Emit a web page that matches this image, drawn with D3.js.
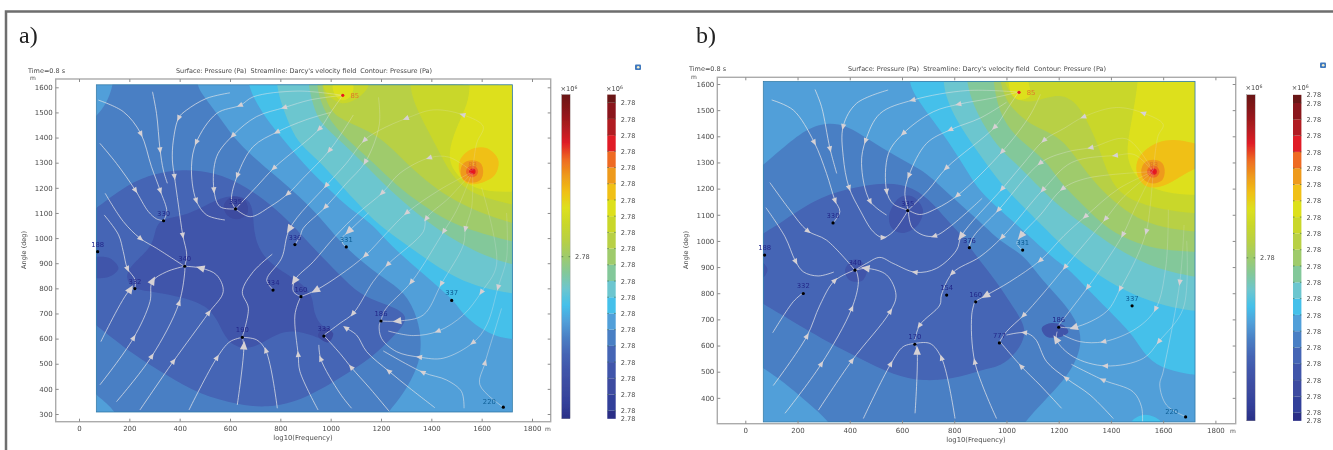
<!DOCTYPE html>
<html>
<head>
<meta charset="utf-8">
<script src="https://cdn.jsdelivr.net/npm/d3@7"></script>
<style>
html, body { margin: 0; padding: 0; background: #fff; overflow: hidden; }
text { font-family: "DejaVu Sans", sans-serif; fill: #4a4a4a; }
</style>
</head>
<body>
<svg id="chart" width="1333" height="450"></svg>
<script>
// shared well positions (frequency, angle)
const wells = [[74,946],[222,799],[336,1069],[622,1116],[420,888],[858,974],[771,793],[882,767],[649,605],[973,610],[1062,965],[1200,670],[1481,752],[1686,327],[1048,1568],[1564,1264]];
const wellLabelsA = ['188','332','330','335','340','336','334','160','190','333','331','186','337','220','85','83'];
const wellLabelsB = ['188','332','330','335','340','376','154','160','170','777','331','186','337','220','85','83'];
const xTicks = [0,200,400,600,800,1000,1200,1400,1600,1800];
const yTicksA = [300,400,500,600,700,800,900,1000,1100,1200,1300,1400,1500,1600];
const yTicksB = [400,500,600,700,800,900,1000,1100,1200,1300,1400,1500,1600];
const barTickLevelsA = [-0.5,0,1,2,3,4,5,6,7,8,9,10,11,12,13,14,15,16,17,18,19];
const barTickLevelsB = [-0.5,0,1,2,3,4,5,6,7,8,9,10,11,12,13,14,15,16,17,18,19,19.5];
const barTickText = '2.78';
const title = "Surface: Pressure (Pa)  Streamline: Darcy's velocity field  Contour: Pressure (Pa)";

// pressure levels, bottom of the colour bar first
const levelColors = ['#2a2f86','#33409a','#3c4ba0','#4155aa','#4565b5','#4a7fc4','#519fd9','#44c0ea','#6cc6cf','#83c89a','#9fcb6c','#b8d044','#c9d72a','#dde01e','#f0c015','#ee9a1c','#ee6a22','#e01f26','#b01c20','#8a161a','#6a1214'];

// contour outlines
const a_L3 = [[468,1660],[468,1609],[494,1565],[547,1497],[612,1402],[691,1323],[787,1243],[878,1164],[957,1084],[1037,985],[1116,913],[1208,842],[1295,786],[1347,683],[1363,575],[1347,484],[1287,376],[1228,308],[1200,260],[150,260],[150,310],[69,376],[30,410],[30,1460],[69,1483],[110,1537],[136,1609],[136,1660]];
const a_L2 = [[30,1090],[68,1119],[163,1192],[269,1251],[415,1278],[547,1258],[640,1218],[732,1158],[838,1066],[944,946],[1037,853],[1116,774],[1209,740],[1328,694],[1249,608],[1169,528],[1037,442],[878,349],[745,325],[639,336],[480,376],[348,455],[216,535],[69,654],[30,680]];
const a_L1 = [[190,867],[223,906],[296,973],[302,1039],[329,1079],[408,1085],[494,1125],[587,1172],[666,1165],[693,1119],[693,1026],[719,940],[785,880],[865,834],[931,780],[931,694],[971,641],[1017,628],[991,588],[957,601],[865,635],[785,621],[719,575],[653,555],[587,588],[554,668],[507,734],[401,767],[296,787],[223,794],[190,827]];
const a_blob188 = [[40,926],[68,926],[123,920],[157,880],[123,847],[68,840],[40,840]];
const a_blob335 = [[575,1130],[610,1165],[660,1150],[670,1100],[630,1075],[590,1090]];
const a_blob333 = [[950,610],[975,645],[1010,620],[990,585]];
const a_L5 = [[672,1660],[672,1609],[705,1536],[758,1456],[825,1377],[891,1297],[970,1218],[1037,1151],[1100,1100],[1169,1052],[1236,972],[1342,880],[1434,800],[1494,747],[1527,694],[1593,641],[1659,608],[1720,598],[1800,590],[1800,1660]];
const a_L6 = [[785,1660],[785,1609],[805,1530],[840,1440],[878,1371],[957,1305],[1050,1199],[1156,1086],[1209,1040],[1302,972],[1394,906],[1500,840],[1606,800],[1720,780],[1800,770],[1800,1660]];
const a_L7 = [[911,1660],[911,1609],[930,1530],[957,1457],[1050,1377],[1143,1285],[1235,1191],[1341,1099],[1447,1019],[1540,966],[1606,933],[1720,893],[1800,880],[1800,1660]];
const a_L8 = [[945,1660],[945,1609],[960,1540],[1000,1460],[1085,1375],[1170,1300],[1260,1210],[1360,1135],[1460,1070],[1560,1030],[1720,985],[1800,970],[1800,1660]];
const a_L9 = [[965,1660],[965,1603],[985,1537],[1024,1477],[1130,1437],[1209,1391],[1288,1311],[1381,1225],[1474,1159],[1580,1106],[1719,1059],[1800,1040],[1800,1660]];
const a_L10 = [[1315,1660],[1315,1602],[1335,1529],[1368,1463],[1421,1363],[1474,1257],[1527,1204],[1593,1165],[1720,1132],[1800,1120],[1800,1660]];
const a_L11 = [[1553,1660],[1553,1609],[1547,1536],[1494,1430],[1467,1337],[1481,1271],[1553,1204],[1633,1184],[1720,1185],[1800,1185],[1800,1660]];
const a_blob85 = [[971,1660],[971,1603],[997,1563],[1044,1537],[1096,1550],[1149,1603],[1149,1660]];
const a_blob85in = [[1010,1612],[1020,1565],[1048,1548],[1080,1565],[1088,1612]];
const a_gold = [[1514,1311],[1553,1351],[1619,1358],[1666,1311],[1653,1252],[1593,1218],[1540,1218],[1511,1265]];

// contour outlines
const b_L3 = [[30,1265],[69,1290],[133,1347],[235,1430],[311,1453],[388,1443],[477,1385],[579,1322],[669,1275],[715,1240],[800,1160],[898,1074],[962,1010],[1032,965],[1077,933],[1141,844],[1224,761],[1294,653],[1275,551],[1217,462],[1141,385],[1071,309],[1040,260],[340,260],[324,309],[235,385],[146,462],[69,513],[30,540]];
const b_L2 = [[30,1000],[69,1030],[133,1067],[260,1156],[388,1201],[541,1226],[643,1207],[720,1143],[783,1067],[834,1016],[885,939],[949,863],[1039,729],[1083,653],[1039,570],[975,519],[924,513],[809,474],[681,462],[567,487],[439,551],[324,608],[184,691],[69,759],[30,780]];
const b_blob335 = [[551,1099],[590,1165],[640,1170],[680,1120],[660,1060],[600,1030],[560,1050]];
const b_blob340 = [[382,890],[420,930],[465,900],[450,850],[400,850]];
const b_blob188 = [[50,915],[69,915],[85,890],[69,860],[50,860]];
const b_blob186 = [[1135,666],[1166,685],[1217,678],[1237,653],[1211,634],[1154,634]];
const b_cyanBottom = [[1480,280],[1480,310],[1530,335],[1590,310],[1590,280]];
const b_L5 = [[628,1660],[628,1611],[643,1564],[707,1475],[784,1373],[850,1265],[898,1189],[975,1118],[1077,1029],[1185,927],[1230,902],[1332,793],[1409,717],[1485,640],[1536,551],[1613,506],[1720,487],[1800,480],[1800,1660]];
const b_L6 = [[758,1660],[758,1609],[771,1538],[822,1436],[898,1330],[975,1220],[1077,1119],[1204,991],[1243,953],[1358,863],[1485,793],[1613,749],[1720,732],[1800,725],[1800,1660]];
const b_L7 = [[847,1660],[847,1609],[872,1520],[920,1430],[975,1348],[1051,1284],[1128,1201],[1217,1119],[1306,1055],[1408,978],[1562,895],[1720,863],[1800,850],[1800,1660]];
const b_L8 = [[950,1660],[950,1609],[965,1520],[1000,1440],[1064,1374],[1150,1310],[1200,1230],[1290,1140],[1390,1040],[1500,990],[1600,965],[1720,958],[1800,955],[1800,1660]];
const b_L9 = [[975,1660],[975,1609],[1000,1530],[1050,1480],[1100,1440],[1200,1400],[1251,1340],[1330,1230],[1410,1150],[1500,1085],[1600,1050],[1720,1035],[1800,1030],[1800,1660]];
const b_L10 = [[987,1660],[987,1616],[1026,1539],[1102,1526],[1191,1565],[1268,1539],[1332,1412],[1357,1348],[1396,1233],[1447,1170],[1560,1125],[1720,1105],[1800,1100],[1800,1660]];
const b_L11 = [[1504,1660],[1504,1609],[1485,1488],[1460,1360],[1466,1296],[1511,1220],[1613,1182],[1720,1175],[1800,1175],[1800,1660]];
const b_blob85 = [[1007,1660],[1007,1616],[1020,1560],[1046,1540],[1090,1555],[1083,1616],[1083,1660]];
const b_gold = [[1800,1350],[1720,1375],[1638,1390],[1575,1380],[1505,1330],[1490,1271],[1520,1205],[1587,1200],[1651,1235],[1720,1280],[1800,1300]];

// rings around well 83, shared by both panels
const ringOuter = [[1516,1265],[1528,1298],[1562,1310],[1596,1298],[1606,1265],[1596,1232],[1562,1220],[1528,1232]];
const ringMiddle = [[1538,1265],[1546,1282],[1562,1288],[1578,1282],[1586,1265],[1578,1248],[1562,1242],[1546,1248]];
const ringInner = [[1550,1265],[1555,1274],[1564,1277],[1573,1274],[1576,1265],[1573,1256],[1564,1253],[1555,1256]];

// streamlines, flow order; a third value marks an arrow on that vertex
const streamsA = [
  [[77,1549],[176,1503],[245,1417,1],[288,1284],[322,1191,1],[349,1105],[336,1069]],
  [[292,1582],[308,1496],[322,1353,1],[335,1271],[351,1218]],
  [[600,1578],[507,1556],[427,1509],[397,1480,1],[375,1390],[371,1311],[379,1247,1],[395,1132],[412,1013,1],[428,933],[420,888]],
  [[83,1377],[149,1297],[223,1192,1],[276,1105],[309,1076],[336,1069]],
  [[104,1178],[176,1066],[243,999,1],[309,959],[420,887]],
  [[100,1092],[157,1013],[176,946],[192,880,1],[223,834],[222,799]],
  [[1048,1568],[870,1585],[692,1562],[642,1529,1],[547,1496],[467,1383,1],[447,1284],[465,1152,1],[507,1092],[580,1072]],
  [[1048,1568],[920,1550],[818,1520,1],[705,1483],[613,1410,1],[547,1324],[536,1194,1],[560,1125],[622,1116]],
  [[1000,1500],[900,1470],[789,1423,1],[692,1364],[630,1251,1],[606,1151],[622,1116]],
  [[1048,1568],[1000,1500],[957,1436,1],[776,1280,1],[705,1204],[622,1116]],
  [[1090,1490],[997,1351,1],[890,1238],[832,1178,1],[759,1125],[680,1085],[622,1116]],
  [[1564,1264],[1580,1377],[1606,1444],[1527,1490,1],[1408,1510],[1302,1477,1],[1196,1430],[1136,1391,1],[1060,1295],[984,1211,1],[838,1039,1],[805,920],[746,834],[768,798]],
  [[1190,1560],[1193,1450],[1139,1305,1],[1060,1215],[981,1125,1],[891,1039],[878,1006],[858,974]],
  [[1564,1264],[1470,1322],[1394,1320,1],[1275,1258],[1206,1181,1],[1110,1100],[1017,1006],[931,906],[858,833,1],[852,787],[881,767]],
  [[1564,1264],[1430,1190],[1304,1102,1],[1222,1020],[1140,933,1],[1037,853],[944,794,1],[882,767]],
  [[1564,1264],[1470,1160],[1381,1079,1],[1368,1025],[1229,897,1],[1169,827],[1090,701,1],[1037,661],[975,615]],
  [[1564,1264],[1500,1110],[1451,1029,1],[1322,827,1],[1216,714],[1200,670]],
  [[1564,1264],[1560,1120],[1536,1039,1],[1527,972],[1441,820,1],[1368,694],[1269,670,1],[1200,670]],
  [[1600,1200],[1659,893],[1600,787,1],[1527,694],[1428,630,1],[1328,612],[1229,630]],
  [[1699,1100],[1699,919],[1666,807,1],[1620,654],[1567,585,1],[1447,522],[1355,526,1],[1262,548],[1202,601],[1193,654],[1200,670]],
  [[1686,327],[1593,416],[1613,502,1],[1659,654],[1679,720]],
  [[1530,323],[1520,389],[1461,435],[1368,465,1],[1209,551]],
  [[1414,325],[1315,402],[1233,469,1],[1143,548],[1103,614],[1063,641,1]],
  [[1233,310],[1156,402],[1083,484,1],[1037,541],[975,610]],
  [[1083,323],[1037,382],[961,518,1],[953,575]],
  [[437,316],[547,522,1],[600,588],[649,605]],
  [[629,336],[655,568,1],[649,605]],
  [[788,323],[743,551,1],[706,595],[649,605]],
  [[768,936],[693,867],[649,787],[673,721],[649,608]],
  [[950,316],[878,469],[871,535,1],[858,694],[878,760],[882,767]],
  [[242,316],[374,508,1],[514,701,1],[573,787],[547,853],[487,880,1],[420,888]],
  [[149,349],[288,528,1],[397,740,1],[421,880],[420,888]],
  [[83,416],[216,601,1],[282,747],[291,827,1],[348,866],[420,888]],
  [[87,588],[202,793,1],[222,799]],
  [[1150,1100],[1075,1030,1],[1046,1000],[1050,975],[1062,965]]
];
const streamsB = [
  [[101,1539],[184,1500],[263,1379,1],[311,1258],[343,1156,1],[362,1112],[337,1070]],
  [[267,1579],[292,1513],[324,1354,1],[350,1258]],
  [[547,1577],[426,1526],[375,1439,1],[375,1322],[397,1205,1],[439,1118],[490,1035],[526,1013,1],[566,1035],[624,1118]],
  [[1046,1569],[850,1575],[643,1539,1],[516,1487],[461,1385,1],[445,1296],[477,1153,1],[541,1099]],
  [[1046,1569],[940,1545],[819,1523,1],[720,1494],[607,1413,1],[548,1334],[541,1192,1],[566,1142],[624,1118]],
  [[1000,1530],[900,1470],[787,1426,1],[694,1373],[627,1252,1],[611,1182],[624,1118]],
  [[1046,1569],[1000,1500],[956,1436,1],[771,1280,1],[700,1194],[624,1118]],
  [[1130,1560],[1090,1480],[985,1343,1],[814,1175,1],[732,1124],[668,1101],[624,1118]],
  [[907,1163],[783,1054],[726,1019,1],[681,1022],[637,1054],[624,1118]],
  [[1562,1265],[1580,1400],[1600,1445],[1526,1488,1],[1420,1510],[1297,1475,1],[1220,1430],[1145,1386,1],[1060,1290],[985,1201,1],[828,1020,1],[809,965],[732,895],[652,880,1],[566,914],[515,937],[464,914],[420,888]],
  [[1562,1265],[1460,1390],[1325,1357,1],[1230,1340],[1131,1299,1],[971,1120,1],[873,1016],[857,975]],
  [[1562,1265],[1490,1330],[1419,1327,1],[1250,1300],[1141,1197,1],[985,1016,1],[898,939],[794,878,1],[751,793],[745,755],[668,678,1],[649,621]],
  [[1562,1265],[1310,1240],[1217,1201,1],[1130,1100],[1058,1023,1],[1040,990],[1061,965]],
  [[1562,1265],[1430,1200],[1304,1095,1],[1220,1020],[1131,927,1],[1013,844],[924,793,1],[882,770]],
  [[1562,1265],[1450,1170],[1381,1086,1],[1300,990],[1226,902,1],[1135,793],[1067,717,1],[1000,653],[972,612]],
  [[1562,1265],[1490,1120],[1447,1026,1],[1380,920],[1313,825,1],[1200,678]],
  [[1562,1265],[1550,1130],[1536,1038,1],[1500,940],[1437,819,1],[1383,730],[1262,670,1],[1200,671]],
  [[1620,1120],[1610,900],[1572,742,1],[1498,666],[1374,615,1],[1281,615],[1217,640]],
  [[1690,1000],[1677,742],[1585,617,1],[1524,551],[1381,522,1],[1256,557],[1192,621,1],[1194,653]],
  [[1680,1061],[1664,844,1],[1600,500],[1587,449],[1613,372],[1684,329]],
  [[1521,309],[1517,366],[1485,423],[1371,468,1],[1249,528]],
  [[1409,321],[1320,411],[1230,474,1],[1154,538],[1109,627],[1071,649,1],[1000,640]],
  [[1211,360],[1128,449],[1058,519,1],[975,615]],
  [[803,321],[752,551,1],[707,608],[649,608]],
  [[650,341],[658,576,1],[650,608]],
  [[452,321],[556,528,1],[605,596],[649,608]],
  [[962,321],[879,536,1],[867,717],[879,770]],
  [[280,353],[407,541,1],[554,729,1],[577,793],[541,870],[465,895,1],[420,888]],
  [[152,341],[290,528,1],[407,740,1],[433,844],[424,889]],
  [[107,447],[235,634,1],[286,755],[341,847,1],[420,889]],
  [[105,649],[184,768],[222,802]],
  [[94,1223],[171,1118],[238,1039,1],[311,1003],[420,888]],
  [[79,1127],[152,1016],[192,923,1],[222,882],[279,866],[339,881]]
];

const layersA = [[a_L3,5],[a_L2,4],[a_L1,3],[a_blob188,3],[a_blob335,2],[a_blob333,2],[a_L5,7],[a_L6,8],[a_L7,9],[a_L8,10],[a_L9,11],[a_blob85,12],[a_blob85in,13],[a_L10,12],[a_L11,13],[a_gold,14],[ringOuter,15],[ringMiddle,16],[ringInner,17]];
const layersB = [[b_L3,5],[b_L2,4],[b_blob188,3],[b_blob335,3],[b_blob340,3],[b_blob186,3],[b_cyanBottom,7],[b_L5,7],[b_L6,8],[b_L7,9],[b_L8,10],[b_L9,11],[b_L10,12],[b_blob85,13],[b_L11,13],[b_gold,14],[ringOuter,15],[ringMiddle,16],[ringInner,17]];

const svg = d3.select('#chart');
const defs = svg.append('defs');
defs.append('filter').attr('id', 'soft')
    .append('feGaussianBlur').attr('stdDeviation', 0.35);

// outer figure border
svg.append('path')
    .attr('d', 'M6,450V11.5H1333')
    .attr('fill', 'none').attr('stroke', '#6e6e6e').attr('stroke-width', 2.5);

function drawPanel(p) {
    const x = d3.scaleLinear().domain([0, 1800]).range(p.xRange);
    const y = d3.scaleLinear().domain([300, 1600]).range(p.yRange);
    const g = svg.append('g').attr('filter', 'url(#soft)');

    svg.append('text').attr('x', p.letterX).attr('y', 43)
        .style('font-family', '"Liberation Serif", serif').style('font-size', '24px').style('fill', '#222')
        .text(p.letter);

    g.append('text').attr('x', p.timeX).attr('y', p.titleY).style('font-size', '6.5px').text('Time=0.8 s');
    g.append('text').attr('x', p.titleX).attr('y', p.titleY).attr('text-anchor', 'middle')
        .attr('textLength', p.titleLen).style('font-size', '6.5px').style('white-space', 'pre').text(title);

    // surface
    const clipId = 'clip' + p.letter[0];
    const px0 = x(69), px1 = x(1722), py0 = y(1610), py1 = y(308);
    defs.append('clipPath').attr('id', clipId).append('rect')
        .attr('x', px0).attr('y', py0).attr('width', px1 - px0).attr('height', py1 - py0);
    const plot = g.append('g').attr('clip-path', `url(#${clipId})`);
    plot.append('rect').attr('x', px0).attr('y', py0).attr('width', px1 - px0).attr('height', py1 - py0)
        .attr('fill', levelColors[6]);
    // long outlines get smoothed, small blobs have to go through their points
    const longBand = d3.line().x(d => x(d[0])).y(d => y(d[1])).curve(d3.curveBasisClosed);
    const blobBand = d3.line().x(d => x(d[0])).y(d => y(d[1])).curve(d3.curveCatmullRomClosed.alpha(0.5));
    plot.selectAll('path.band').data(p.layers).enter().append('path')
        .attr('class', 'band')
        .attr('d', d => d[0].length > 8 ? longBand(d[0]) : blobBand(d[0]))
        .attr('fill', d => levelColors[d[1]]);

    // streamlines and arrows, fading out towards the high pressure corner
    const fadeId = 'fade' + p.letter[0];
    const fade = defs.append('linearGradient').attr('id', fadeId).attr('gradientUnits', 'userSpaceOnUse')
        .attr('x1', x(900)).attr('y1', y(900)).attr('x2', x(1450)).attr('y2', y(1300));
    fade.append('stop').attr('offset', 0).attr('stop-color', '#e6e6e8').attr('stop-opacity', 0.8);
    fade.append('stop').attr('offset', 1).attr('stop-color', '#e6e6e8').attr('stop-opacity', 0.22);
    const stream = d3.line().x(d => x(d[0])).y(d => y(d[1])).curve(d3.curveCatmullRom.alpha(0.5));
    plot.selectAll('path.stream').data(p.streams).enter().append('path')
        .attr('class', 'stream')
        .attr('d', stream)
        .attr('fill', 'none').attr('stroke', `url(#${fadeId})`).attr('stroke-width', 0.9);
    const arrows = [];
    p.streams.forEach(s => s.forEach((v, i) => {
        if (v[2]) {
            const a = s[i - 1] || v, b = s[i + 1] || v;
            const angle = Math.atan2(y(b[1]) - y(a[1]), x(b[0]) - x(a[0])) * 180 / Math.PI + 90;
            // faster flow close to a well, so a bigger head there
            const near = d3.min(wells, w => Math.hypot(w[0] - v[0], w[1] - v[1]));
            arrows.push({ v, angle, size: near < 75 ? 30 : 15 });
        }
    }));
    plot.selectAll('path.arrow').data(arrows).enter().append('path')
        .attr('class', 'arrow')
        .attr('d', d => d3.symbol(d3.symbolTriangle, d.size)())
        .attr('transform', d => `translate(${x(d.v[0])},${y(d.v[1])}) rotate(${d.angle}) scale(0.9,1.2)`)
        .attr('fill', '#d6d1d4');

    g.append('rect').attr('x', px0).attr('y', py0).attr('width', px1 - px0).attr('height', py1 - py0)
        .attr('fill', 'none').attr('stroke', '#2f7aa8').attr('stroke-width', 0.8);

    // wells
    const nameColor = n => (n === '85' || n === '83') ? '#e0762a' : (n === '331' || n === '337' || n === '220') ? '#0f5f96' : '#23288a';
    const wellData = wells.map((w, i) => ({ w, name: p.labels[i] }));
    g.selectAll('circle.well').data(wellData).enter().append('circle')
        .attr('class', 'well')
        .attr('cx', d => x(d.w[0])).attr('cy', d => y(d.w[1])).attr('r', 1.6)
        .attr('fill', d => (d.name === '85' || d.name === '83') ? '#e8141c' : '#000');
    g.selectAll('text.wellname').data(wellData).enter().append('text')
        .attr('class', 'wellname')
        .attr('x', d => x(d.w[0]) + (d.name === '220' ? -14 : d.name === '85' ? 12 : 0))
        .attr('y', d => y(d.w[1]) + (d.name === '220' ? -3 : d.name === '85' ? 2.5 : -5))
        .attr('text-anchor', 'middle')
        .style('font-size', '6.8px')
        .style('fill', d => nameColor(d.name))
        .text(d => d.name);

    // frame and axes
    const [fl, fr, ft, fb] = p.frame;
    g.append('rect').attr('x', fl).attr('y', ft).attr('width', fr - fl).attr('height', fb - ft)
        .attr('fill', 'none').attr('stroke', '#ababab').attr('stroke-width', 1.4);
    const styleAxis = sel => {
        sel.select('.domain').remove();
        sel.selectAll('line').attr('stroke', '#8c8c8c');
        sel.selectAll('text').style('font-size', '7px').style('fill', '#4a4a4a').style('font-family', '"DejaVu Sans", sans-serif');
    };
    g.append('g').attr('transform', `translate(0,${fb})`)
        .call(d3.axisBottom(x).tickValues(xTicks).tickFormat(d3.format('d')).tickSize(-3).tickPadding(4)).call(styleAxis);
    g.append('g').attr('transform', `translate(0,${ft})`)
        .call(d3.axisTop(x).tickValues(xTicks).tickFormat('').tickSize(-3)).call(styleAxis);
    g.append('g').attr('transform', `translate(${fl},0)`)
        .call(d3.axisLeft(y).tickValues(p.yTicks).tickFormat(d3.format('d')).tickSize(-3).tickPadding(3)).call(styleAxis);
    g.append('g').attr('transform', `translate(${fr},0)`)
        .call(d3.axisRight(y).tickValues(p.yTicks).tickFormat('').tickSize(-3)).call(styleAxis);

    g.append('text').attr('x', p.xLabel[0]).attr('y', p.xLabel[1]).attr('text-anchor', 'middle').style('font-size', '6.8px').text('log10(Frequency)');
    g.append('text').attr('transform', `translate(${p.yLabel[0]},${p.yLabel[1]}) rotate(-90)`).attr('text-anchor', 'middle').style('font-size', '6.5px').text('Angle (deg)');
    g.append('text').attr('x', p.mBottom[0]).attr('y', p.mBottom[1]).attr('text-anchor', 'middle').style('font-size', '6px').text('m');
    g.append('text').attr('x', p.mTop[0]).attr('y', p.mTop[1]).attr('text-anchor', 'middle').style('font-size', '6px').text('m');

    // colour bars
    const level = d3.scaleLinear().domain([0, 19]).range(p.barRange);
    const gradId = 'grad' + p.letter[0];
    const grad = defs.append('linearGradient').attr('id', gradId)
        .attr('x1', 0).attr('x2', 0).attr('y1', 1).attr('y2', 0);
    grad.selectAll('stop').data(levelColors).enter().append('stop')
        .attr('offset', (d, i) => i / (levelColors.length - 1))
        .attr('stop-color', d => d);
    const barTop = level(19.5), barBottom = level(-0.5), barW = p.barW;

    g.append('rect').attr('x', p.barX1).attr('y', barTop).attr('width', barW).attr('height', barBottom - barTop)
        .attr('fill', `url(#${gradId})`).attr('stroke', '#777').attr('stroke-width', 0.3);
    // band i runs from level i-1 up to level i, the two end bands are half height
    const bandTop = i => i === 20 ? 19.5 : i;
    const bandBottom = i => i === 0 ? -0.5 : i - 1;
    g.selectAll('rect.step').data(levelColors).enter().append('rect')
        .attr('class', 'step')
        .attr('x', p.barX2).attr('width', barW)
        .attr('y', (d, i) => level(bandTop(i)))
        .attr('height', (d, i) => level(bandBottom(i)) - level(bandTop(i)))
        .attr('fill', d => d);

    const barAxis = d3.axisRight(level).tickValues(p.barTicks).tickFormat(() => barTickText).tickSize(0).tickPadding(5);
    g.append('g').attr('transform', `translate(${p.barX2 + barW},0)`).call(barAxis)
        .call(sel => {
            sel.select('.domain').remove();
            sel.selectAll('text').style('font-size', '6.6px').style('fill', '#4a4a4a').style('font-family', '"DejaVu Sans", sans-serif');
        });
    const barTickMarks = (bx, vals) => {
        g.selectAll(null).data(vals).enter().append('path')
            .attr('d', d => `M${bx},${level(d)}h1.5M${bx + barW - 1.5},${level(d)}h1.5`)
            .attr('stroke', '#2c5a3c').attr('stroke-width', 0.6);
    };
    barTickMarks(p.barX2, p.barTicks.filter(d => d >= 0 && d <= 19));
    barTickMarks(p.barX1, [9.5]);
    g.append('text').attr('x', p.barX1 + barW + 5).attr('y', level(9.5) + 2.4).style('font-size', '6.6px').text(barTickText);

    [p.barX1, p.barX2].forEach(bx => {
        const t = g.append('text').attr('x', bx + barW / 2 + 3).attr('y', p.barTitleY).attr('text-anchor', 'middle').style('font-size', '6.6px');
        t.append('tspan').text('×10');
        t.append('tspan').attr('dy', -2.5).style('font-size', '4.6px').text('6');
    });

    // export icon in the corner
    svg.append('rect').attr('x', p.icon[0]).attr('y', p.icon[1]).attr('width', 6).attr('height', 5.5).attr('rx', 1).attr('fill', '#3f78bd');
    svg.append('circle').attr('cx', p.icon[0] + 3.2).attr('cy', p.icon[1] + 2.7).attr('r', 1.3).attr('fill', '#f4ecc8');
}

drawPanel({
    letter: 'a)', letterX: 19, labels: wellLabelsA, layers: layersA, streams: streamsA, yTicks: yTicksA,
    xRange: [79, 532], yRange: [414, 87.3], frame: [55.7, 550.7, 79, 421.7],
    timeX: 28, titleX: 304, titleY: 73, titleLen: 256,
    xLabel: [303, 440], yLabel: [26, 250], mBottom: [548, 431], mTop: [33, 80],
    barRange: [410.7, 102.7], barX1: 561.7, barX2: 607.3, barW: 8.4, barTicks: barTickLevelsA, barTitleY: 91,
    icon: [635, 64.5]
});
drawPanel({
    letter: 'b)', letterX: 696, labels: wellLabelsB, layers: layersB, streams: streamsB, yTicks: yTicksB,
    xRange: [745.3, 1215.4], yRange: [424, 84], frame: [717.3, 1235.7, 77.3, 423.7],
    timeX: 689, titleX: 977, titleY: 71, titleLen: 258,
    xLabel: [976, 442], yLabel: [688, 250], mBottom: [1233, 433], mTop: [694, 79],
    barRange: [412.7, 103], barX1: 1246.7, barX2: 1293, barW: 8.4, barTicks: barTickLevelsB, barTitleY: 90,
    icon: [1320, 62.5]
});
</script>
</body>
</html>
